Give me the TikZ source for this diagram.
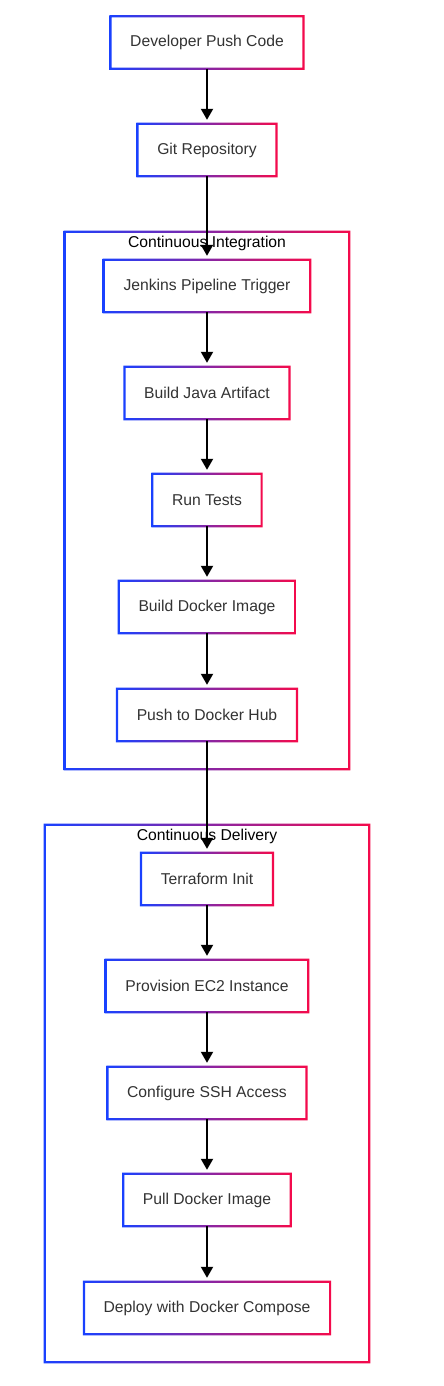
\documentclass[tikz,border=0pt]{standalone}
\usepackage{fontspec}
\setmainfont{Liberation Sans}
\usetikzlibrary{arrows.meta}
\definecolor{gblue}{RGB}{25,65,255}
\definecolor{gred}{RGB}{245,10,75}
\definecolor{txt}{RGB}{51,51,51}
\tikzset{
  stepbox/.style={rectangle, draw=none, fill=white, minimum height=52pt, inner xsep=19.5pt,
    text=txt, font=\fontsize{15.7}{18}\selectfont},
  clusterbox/.style={rectangle, draw=none, fill=white},
  clusterlabel/.style={text=black, font=\fontsize{15.7}{18}\selectfont, inner sep=0pt},
  flow/.style={line width=2pt, -{Triangle[length=11pt,width=12pt]}, shorten >=4pt},
  gradframe/.style={left color=gblue, right color=gred, even odd rule}
}
\newcommand{\gframe}[1]{%
  \shade[gradframe] ([shift={(-1.1pt,1.1pt)}]#1.north west) rectangle ([shift={(1.1pt,-1.1pt)}]#1.south east)
    ([shift={(1.1pt,-1.1pt)}]#1.north west) rectangle ([shift={(-1.1pt,1.1pt)}]#1.south east);}
\begin{document}
\begin{tikzpicture}[x=1pt,y=-1pt]
\useasboundingbox (0,0) rectangle (444,1386);
\fill[white] (0,0) rectangle (444,1386);
% clusters
\node[clusterbox, minimum width=284pt, minimum height=537pt] (ci) at (207,500.5) {};
\gframe{ci}
\node[clusterlabel] (cil) at (207,243) {Continuous Integration};
\node[clusterbox, minimum width=324pt, minimum height=537pt] (cd) at (207,1093.5) {};
\gframe{cd}
\node[clusterlabel] (cdl) at (207,836) {Continuous Delivery};
% nodes
\node[stepbox] (n1) at (207,42.5) {Developer Push Code};
\node[stepbox] (n2) at (207,150) {Git Repository};
\node[stepbox] (n3) at (207,286) {Jenkins Pipeline Trigger};
\node[stepbox] (n4) at (207,393) {Build Java Artifact};
\node[stepbox] (n5) at (207,500) {Run Tests};
\node[stepbox] (n6) at (207,607) {Build Docker Image};
\node[stepbox] (n7) at (207,715) {Push to Docker Hub};
\node[stepbox] (n8) at (207,879) {Terraform Init};
\node[stepbox] (n9) at (207,986) {Provision EC2 Instance};
\node[stepbox] (n10) at (207,1093) {Configure SSH Access};
\node[stepbox] (n11) at (207,1200) {Pull Docker Image};
\node[stepbox] (n12) at (207,1308) {Deploy with Docker Compose};
\foreach \n in {n1,n2,n3,n4,n5,n6,n7,n8,n9,n10,n11,n12}{\gframe{\n}}
% connectors
\draw[flow] (n1) -- (n2);
\draw[flow] (n2) -- (n3);
\draw[flow] (n3) -- (n4);
\draw[flow] (n4) -- (n5);
\draw[flow] (n5) -- (n6);
\draw[flow] (n6) -- (n7);
\draw[flow] (n7) -- (n8);
\draw[flow] (n8) -- (n9);
\draw[flow] (n9) -- (n10);
\draw[flow] (n10) -- (n11);
\draw[flow] (n11) -- (n12);
\end{tikzpicture}
\end{document}
